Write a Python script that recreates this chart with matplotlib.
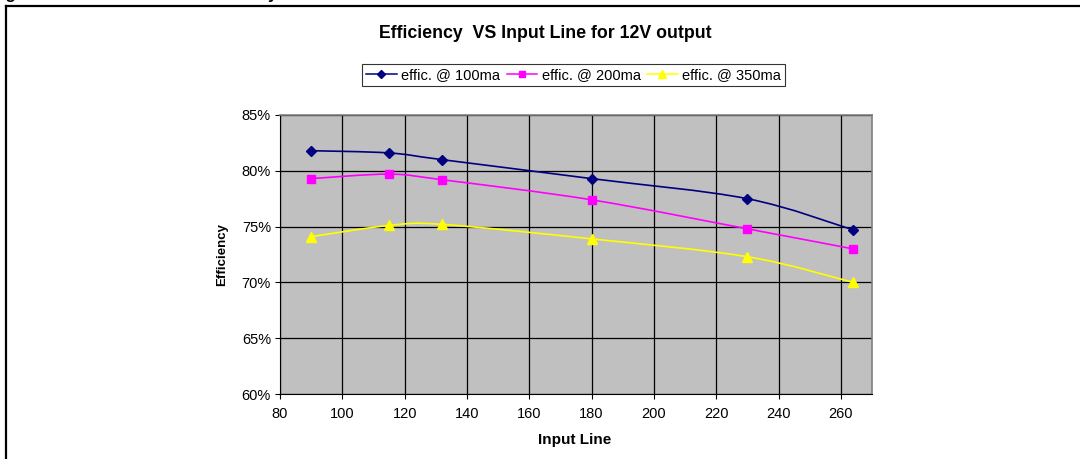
import matplotlib
matplotlib.use("Agg")
from matplotlib import pyplot as plt
from matplotlib.path import Path
from matplotlib.patches import PathPatch
from matplotlib.lines import Line2D
import numpy as np

plt.rcParams["font.family"] = ["Liberation Sans", "DejaVu Sans"]

# data
input_line = [90, 115, 132, 180, 230, 264]
effic_100ma = [81.8, 81.6, 81.0, 79.3, 77.5, 74.7]
effic_200ma = [79.3, 79.7, 79.2, 77.4, 74.8, 73.0]
effic_350ma = [74.1, 75.1, 75.2, 73.9, 72.3, 70.0]
series_labels = ["effic. @ 100ma", "effic. @ 200ma", "effic. @ 350ma"]
y_ticks = [60, 65, 70, 75, 80, 85]
x_ticks = [80, 100, 120, 140, 160, 180, 200, 220, 240, 260]


def smooth_path(xs, ys):
    # Excel-like smoothed line: cubic bezier segments through the points
    pts = np.column_stack([xs, ys]).astype(float)
    n = len(pts)
    verts = [pts[0]]
    codes = [Path.MOVETO]
    for i in range(n - 1):
        p0 = pts[i - 1] if i > 0 else pts[i]
        p1 = pts[i]
        p2 = pts[i + 1]
        p3 = pts[i + 2] if i + 2 < n else pts[i + 1]
        c1 = p1 + (p2 - p0) / 6.0
        c2 = p2 - (p3 - p1) / 6.0
        verts += [c1, c2, p2]
        codes += [Path.CURVE4] * 3
    return Path(verts, codes)


fig = plt.figure(figsize=(10.8, 4.59), dpi=100)
ax = fig.add_axes([280 / 1080, 1 - 394 / 459, 592 / 1080, 279 / 459])
ax.set_facecolor("#C0C0C0")

styles = [
    (effic_100ma, "#000080", "D", 5.5),
    (effic_200ma, "#FF00FF", "s", 5.5),
    (effic_350ma, "#FFFF00", "^", 7),
]
handles = []
for (vals, color, marker, ms), label in zip(styles, series_labels):
    ax.add_patch(PathPatch(smooth_path(input_line, vals), facecolor="none",
                           edgecolor=color, linewidth=1.2, zorder=3))
    ax.plot(input_line, vals, linestyle="none", marker=marker, markersize=ms,
            color=color, zorder=4)
    handles.append(Line2D([], [], color=color, linewidth=1.1, marker=marker,
                          markersize=ms - 1, label=label))

ax.set_xlim(80, 270)
ax.set_ylim(60, 85)
ax.set_xticks(x_ticks)
ax.set_xticklabels([str(v) for v in x_ticks])
ax.set_yticks(y_ticks)
ax.set_yticklabels([f"{v}%" for v in y_ticks])
ax.grid(color="black", linewidth=0.9)
ax.set_axisbelow(True)
ax.tick_params(direction="out", length=3.5, width=0.8, color="black",
               labelsize=10.5, pad=3)
ax.tick_params(axis="x", pad=6)
for side in ["top", "right", "bottom", "left"]:
    ax.spines[side].set_color("#808080")
    ax.spines[side].set_linewidth(1.2)
ax.spines["left"].set_color("black")
ax.spines["left"].set_linewidth(0.8)
ax.spines["bottom"].set_color("black")
ax.spines["bottom"].set_linewidth(0.8)

fig.text(222 / 1080, 1 - 255 / 459, "Efficiency", rotation=90, ha="center",
         va="center", fontsize=9.5, weight="bold")
fig.text(575 / 1080, 1 - 440 / 459, "Input Line", ha="center", va="center",
         fontsize=11, weight="bold")
fig.text(545 / 1080, 1 - 33 / 459, "Efficiency  VS Input Line for 12V output",
         ha="center", va="center", fontsize=12.8, weight="bold")

leg = fig.legend(handles=handles, loc="center", bbox_to_anchor=(573.5 / 1080, 1 - 75 / 459),
                 ncol=3, fontsize=10.5, frameon=True, fancybox=False,
                 handlelength=2.1, handletextpad=0.3, columnspacing=0.45,
                 borderpad=0.3, borderaxespad=0)
leg.get_frame().set_edgecolor("black")
leg.get_frame().set_linewidth(0.8)

# outer frame (top and left edges visible) and the cut-off heading above it
fig.add_artist(Line2D([5.5 / 1080, 5.5 / 1080], [0, 1 - 5.5 / 459], color="black",
                      linewidth=1.6, transform=fig.transFigure))
fig.add_artist(Line2D([5.5 / 1080, 1], [1 - 5.5 / 459, 1 - 5.5 / 459], color="black",
                      linewidth=1.6, transform=fig.transFigure))
fig.text(277 / 1080, 1 + 0.5 / 459, "Figure 12. Measured Total Efficiency", ha="right",
         va="baseline", fontsize=12, weight="bold")

fig.savefig("out.png", dpi=100)
